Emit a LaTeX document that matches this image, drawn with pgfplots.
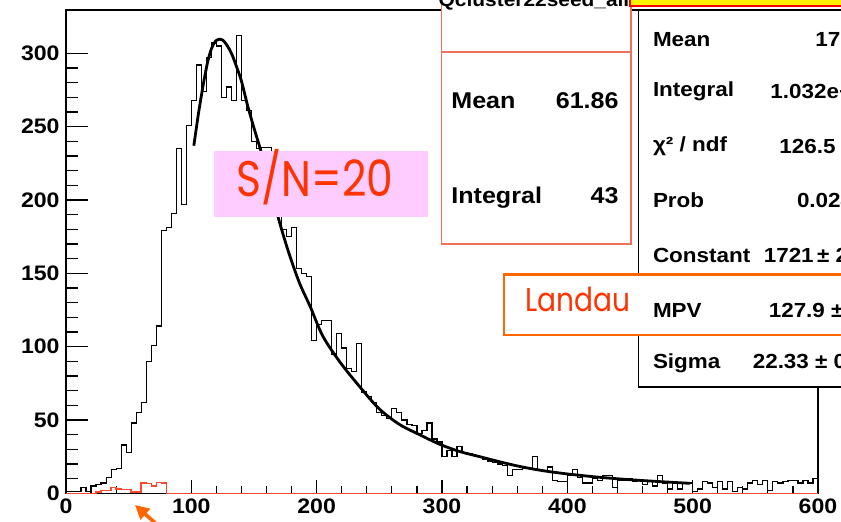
\documentclass[border=0pt]{standalone}
\usepackage{fontspec}
\setmainfont{Liberation Sans}[FakeStretch=1.1]
\newfontfamily\comic{Poppins}[FakeStretch=0.85]
\usepackage{pgfplots}
\usepackage{pgfplotstable}
\pgfplotsset{compat=1.18}
\usetikzlibrary{arrows.meta}
\definecolor{histred}{HTML}{F84830}
\definecolor{statred}{HTML}{F07060}
\definecolor{annred}{HTML}{FF3300}
\definecolor{landor}{HTML}{FF6600}
\definecolor{snpink}{HTML}{FFCCFF}

\pgfplotstableread{
x y
0 1
4 1
8 1
12 4
16 1
20 5
24 6
28 7
32 11
36 16
40 17
44 33
48 28
52 48
56 55
60 62
64 90
68 101
72 114
76 179
80 181
84 191
88 235
92 197
96 251
100 268
104 292
108 274
112 297
116 307
120 305
124 270
128 277
132 268
136 312
140 268
144 261
148 240
152 235
156 236
160 236
164 215
168 190
172 180
176 175
180 181
184 153
188 150
192 148
196 104
200 115
204 118
208 118
212 95
216 109
220 99
224 85
228 83
232 102
236 69
240 66
244 62
248 55
252 53
256 51
260 58
264 55
268 50
272 47
276 46
280 41
284 43
288 48
292 37
296 35
300 25
304 29
308 25
312 32
316 28
320 27
324 26
328 25
332 23
336 22
340 21
344 20
348 19
352 12
356 16
360 16
364 17
368 17
372 25
376 16
380 15
384 18
388 9
392 8
396 8
400 12
404 16
408 11
412 7
416 7
420 10
424 9
428 12
432 12
436 4
440 9
444 9
448 10
452 8
456 9
460 6
464 8
468 5
472 12
476 7
480 3
484 7
488 3
492 7
496 7
500 1
504 3
508 8
512 7
516 4
520 8
524 3
528 8
532 1
536 4
540 3
544 7
548 9
552 6
556 9
560 2
564 8
568 7
572 8
576 9
580 9
584 7
588 9
592 7
596 10
600 10
}\blackhist

\pgfplotstableread{
x y
0 0
24 1
28 2
32 2
36 4
40 3
44 2.5
48 2.5
52 1
56 1
60 7
64 6.5
68 5
72 7.5
76 7
80 0
600 0
}\redhist

\begin{document}
\begin{tikzpicture}
\useasboundingbox (-33pt,-13.85pt) rectangle (387.5pt,246.65pt);
\clip (-33pt,-13.85pt) rectangle (387.5pt,246.65pt);
\begin{axis}[
  at={(0pt,0pt)}, anchor=south west,
  scale only axis, width=376pt, height=241.65pt,
  xmin=0, xmax=600, ymin=0, ymax=329.5,
  xtick={0,100,...,600}, ytick={0,50,...,300},
  minor x tick num=4, minor y tick num=4,
  tick align=inside, xtick pos=left, ytick pos=left,
  axis line style={black, line width=0.6pt},
  every tick/.style={black, line width=0.6pt},
  xtick style={/pgfplots/major tick length=6.5pt,/pgfplots/minor tick length=3.5pt},
  ytick style={/pgfplots/major tick length=11pt,/pgfplots/minor tick length=6pt},
  ticklabel style={font=\bfseries\fontsize{10.5}{12}\selectfont},
  /pgf/number format/assume math mode=true,
  xticklabel style={anchor=north, inner sep=0pt, yshift=-2.5pt},
  yticklabel style={anchor=east, inner sep=0pt, xshift=-3pt},
  clip=false,
]
\addplot[const plot, black, line width=0.6pt] table {\blackhist};
\addplot[const plot, histred, line width=0.7pt] table {\redhist};
\addplot[black, line width=1.4pt, smooth] coordinates {
(102,237) (105,255) (107,266) (110,281) (113,294) (116,303) (119,308)
(122,309.5) (125,309) (128,306) (132,300) (136,291) (140,281) (145,264)
(150,249) (156,232) (162,213) (169,189) (177,166) (186,144) (195,127)
(205,107) (219,89) (235,72) (250,57.5) (266,47) (282,40) (298,33.5)
(314,28.5) (330,25) (346,21.5) (362,18.3) (380,15.5) (400,13.2)
(426,10.9) (453,9.1) (479,7.7) (498,6.8)};
\end{axis}
% S/N box
\fill[snpink] (74pt,138.15pt) rectangle (181pt,171.15pt);
\node[anchor=base west, inner sep=0pt, text=annred, font=\comic\fontsize{25}{27}\selectfont] at (85pt,148.3pt) {S/N=20};
% stat box 1
\filldraw[fill=white, draw=statred, line width=0.75pt] (187.85pt,124.65pt) rectangle (282.5pt,262pt);
\draw[statred, line width=0.75pt] (187.85pt,220.65pt) -- (282.5pt,220.65pt);
\node[anchor=base, inner sep=0pt, font=\bfseries\fontsize{9.5}{11}\selectfont] at (234pt,243.2pt) {Qcluster22seed\_all};
\begin{scope}[every node/.style={inner sep=0pt, font=\bfseries\fontsize{11.4}{13}\selectfont}]
\node[anchor=base west] at (192.5pt,192.5pt) {Mean};
\node[anchor=base east] at (276.5pt,192.5pt) {61.86};
\node[anchor=base west] at (192.5pt,144.8pt) {Integral};
\node[anchor=base east] at (276.5pt,144.8pt) {43};
\end{scope}
% yellow bar
\filldraw[fill=yellow, draw=red, line width=1pt] (282pt,243.65pt) rectangle (400pt,262pt);
% stat box 2
\filldraw[fill=white, draw=black, line width=0.6pt] (286.15pt,53.15pt) rectangle (400pt,241.65pt);
\begin{scope}[every node/.style={inner sep=0pt, anchor=base west, font=\bfseries\fontsize{10.2}{12}\selectfont}]
\node at (293.3pt,223.65pt) {Mean};
\node at (374.5pt,223.65pt) {171.4};
\node at (293.3pt,198.3pt) {Integral};
\node at (352pt,197.3pt) {1.032e+04};
\node at (293.3pt,171.0pt) {χ² / ndf};
\node at (356.5pt,170.0pt) {126.5 / 97};
\node at (293.3pt,143.0pt) {Prob};
\node at (365.3pt,143.0pt) {0.0246};
\node at (293.3pt,115.3pt) {Constant};
\node at (348.7pt,115.3pt) {1721\,±\ 28.1};
\end{scope}
% Landau box
\filldraw[fill=white, draw=landor, line width=1.3pt] (219pt,79.15pt) rectangle (400pt,109.5pt);
\node[anchor=base west, inner sep=0pt, text=annred, font=\comic\fontsize{16.5}{18}\selectfont] at (229.5pt,90.8pt) {Landau};
\begin{scope}[every node/.style={inner sep=0pt, anchor=base west, font=\bfseries\fontsize{10.2}{12}\selectfont}]
\node at (293.3pt,87.8pt) {MPV};
\node at (351.2pt,87.8pt) {127.9 ± 0.2};
\node at (293.3pt,62.5pt) {Sigma};
\node at (343.2pt,62.5pt) {22.33 ± 0.18};
\end{scope}
% arrow
\draw[landor, line width=1.8pt, -{Triangle[length=7pt,width=7pt]}] (47pt,-17pt) -- (34.5pt,-5.85pt);
\end{tikzpicture}
\end{document}
